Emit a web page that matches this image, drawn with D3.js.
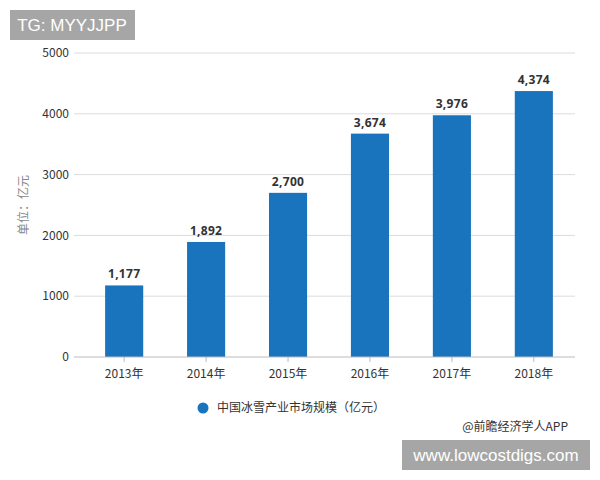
<!DOCTYPE html>
<html><head><meta charset="utf-8">
<script src="https://cdn.jsdelivr.net/npm/d3@7"></script>
<style>html,body{margin:0;padding:0;background:#fff;}svg{display:block;}</style>
</head><body>
<svg id="chart" width="600" height="480"></svg>
<script>
const categories = ["2013年","2014年","2015年","2016年","2017年","2018年"];
const values = [1177, 1892, 2700, 3674, 3976, 4374];
const yTicks = [0, 1000, 2000, 3000, 4000, 5000];
const seriesName = "中国冰雪产业市场规模（亿元）";
const yTitle = "单位：亿元";

const svg = d3.select("#chart");
const font = "'Noto Sans CJK SC', 'Noto Sans', sans-serif";
const barColor = "#1a74bd";

const x = d3.scaleBand().domain(categories).range([83, 575]).paddingInner(0.535).paddingOuter(0.27);
const y = d3.scaleLinear().domain([0, 5000]).range([357, 53]);

// gridlines
svg.append("g").selectAll("line").data(yTicks.filter(d => d > 0)).join("line")
  .attr("x1", 74).attr("x2", 575)
  .attr("y1", d => y(d)).attr("y2", d => y(d))
  .attr("stroke", "#dcdcdc").attr("stroke-width", 1);

// y tick labels
svg.append("g").selectAll("text").data(yTicks).join("text")
  .attr("x", 69).attr("y", d => y(d)).attr("dy", "0.35em")
  .attr("text-anchor", "end").attr("font-family", font).attr("font-size", 12)
  .attr("fill", "#333").text(d => d);

// bars
svg.append("g").selectAll("rect").data(values).join("rect")
  .attr("x", (d, i) => x(categories[i]))
  .attr("width", x.bandwidth())
  .attr("y", d => y(d))
  .attr("height", d => y(0) - y(d))
  .attr("fill", barColor);

// value labels
svg.append("g").selectAll("text").data(values).join("text")
  .attr("x", (d, i) => x(categories[i]) + x.bandwidth() / 2)
  .attr("y", d => y(d) - 7)
  .attr("text-anchor", "middle").attr("font-family", "'Open Sans', 'Noto Sans', sans-serif")
  .attr("font-weight", "bold").attr("font-size", 12).attr("fill", "#333")
  .attr("letter-spacing", "0.3px")
  .text(d => d3.format(",")(d));

// baseline
svg.append("line").attr("x1", 74).attr("x2", 575).attr("y1", y(0)).attr("y2", y(0))
  .attr("stroke", "#bbb").attr("stroke-width", 1);

// x ticks and labels
const xg = svg.append("g");
xg.selectAll("line").data(categories).join("line")
  .attr("x1", d => x(d) + x.bandwidth() / 2).attr("x2", d => x(d) + x.bandwidth() / 2)
  .attr("y1", y(0)).attr("y2", y(0) + 5).attr("stroke", "#bbb");
xg.selectAll("text").data(categories).join("text")
  .attr("x", d => x(d) + x.bandwidth() / 2).attr("y", 374).attr("dy", "0.35em")
  .attr("text-anchor", "middle").attr("font-family", font).attr("font-size", 12)
  .attr("fill", "#333").text(d => d);

// y title
svg.append("text").attr("transform", "translate(24,205) rotate(-90)")
  .attr("text-anchor", "middle").attr("dy", "0.35em")
  .attr("font-family", font).attr("font-size", 12).attr("fill", "#888").text(yTitle);

// legend
svg.append("circle").attr("cx", 203).attr("cy", 408).attr("r", 5.5).attr("fill", barColor);
svg.append("text").attr("x", 217).attr("y", 408).attr("dy", "0.35em")
  .attr("font-family", font).attr("font-size", 12).attr("fill", "#333").text(seriesName);

// source
svg.append("text").attr("x", 568).attr("y", 427).attr("dy", "0.35em").attr("text-anchor", "end")
  .attr("font-family", font).attr("font-size", 12).attr("fill", "#333").text("@前瞻经济学人APP");

// overlay boxes
svg.append("rect").attr("x", 10).attr("y", 10).attr("width", 125).attr("height", 30).attr("fill", "#a6a6a6");
svg.append("text").attr("x", 72).attr("y", 25).attr("dy", "0.35em").attr("text-anchor", "middle")
  .attr("font-family", "'Liberation Sans', Arial, sans-serif").attr("font-size", 17).attr("fill", "#fff").text("TG: MYYJJPP");
svg.append("rect").attr("x", 402).attr("y", 440).attr("width", 188).attr("height", 30).attr("fill", "#a6a6a6");
svg.append("text").attr("x", 496).attr("y", 455).attr("dy", "0.35em").attr("text-anchor", "middle")
  .attr("font-family", "'Liberation Sans', Arial, sans-serif").attr("font-size", 17).attr("fill", "#fff").text("www.lowcostdigs.com");
</script>
</body></html>
